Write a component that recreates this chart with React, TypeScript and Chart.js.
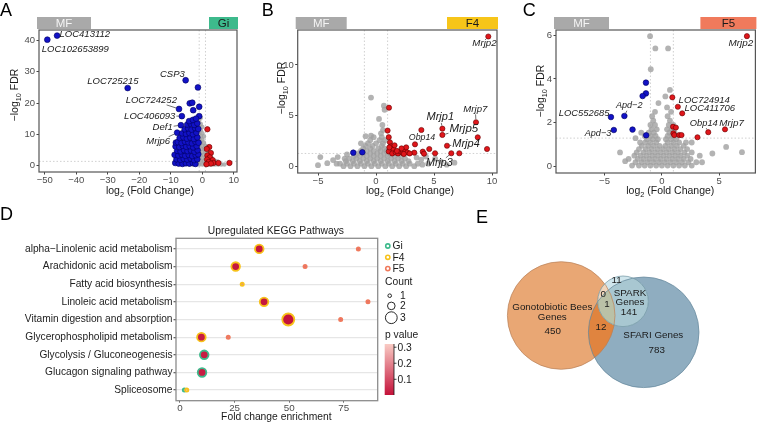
import React, { useEffect, useRef } from 'react';
import { Chart, registerables } from 'chart.js';
Chart.register(...registerables);

const FONT = '"Liberation Sans", Arial, Helvetica, sans-serif';
Chart.defaults.font.family = FONT;

type Pt = [number, number];
type Row = [number, number[]];
const rows = (r: Row[]): Pt[] => r.flatMap(([yv, xs]) => xs.map((xv) => [xv, yv] as Pt));

// ---------------- Panel A (MF vs Gi) ----------------
const aXTicks = [-50, -40, -30, -20, -10, 0, 10];
const aYTicks = [0, 10, 20, 30, 40];
const aDown: Pt[] = [
  [-49.2, 40.3], [-46.1, 41.6], [-23.7, 24.8], [-5.3, 27.3], [-1.4, 25.0], [-7.4, 18.1],
  [-4.0, 19.9], [-3.2, 20.1], [-1.0, 18.8], [-2.9, 17.7], [-6.5, 15.8], [-1.0, 15.8],
  [-6.8, 12.9], [-8.0, 10.5],
  [-8.6, 0.8], [-7.5, 0.6], [-6.3, 0.5], [-5.2, 0.7], [-4.1, 0.6], [-3.0, 0.8], [-2.2, 0.5],
  [-8.2, 2.0], [-7.0, 1.8], [-5.9, 2.1], [-4.8, 1.9], [-3.7, 2.2], [-2.6, 1.7], [-1.6, 2.0],
  [-8.8, 3.4], [-7.6, 3.2], [-6.5, 3.5], [-5.4, 3.1], [-4.3, 3.4], [-3.2, 3.0], [-2.1, 3.3], [-1.3, 3.6],
  [-8.0, 4.7], [-6.9, 4.5], [-5.8, 4.9], [-4.7, 4.6], [-3.6, 4.8], [-2.5, 4.4], [-1.5, 4.9],
  [-8.5, 6.1], [-7.3, 5.9], [-6.2, 6.3], [-5.1, 6.0], [-4.0, 6.2], [-2.9, 5.8], [-1.8, 6.2],
  [-8.4, 7.3], [-7.8, 7.5], [-6.6, 7.2], [-5.5, 7.6], [-4.4, 7.4], [-3.3, 7.1], [-2.2, 7.6], [-1.2, 7.3],
  [-7.2, 8.8], [-6.0, 9.0], [-4.9, 8.6], [-3.8, 8.9], [-2.7, 8.5], [-1.6, 9.0],
  [-6.4, 10.3], [-5.2, 10.1], [-4.1, 10.4], [-3.0, 10.0], [-1.9, 10.5],
  [-5.6, 11.6], [-4.5, 11.9], [-3.4, 11.5], [-2.3, 12.0], [-1.3, 11.7],
  [-4.8, 13.1], [-3.7, 13.4], [-2.6, 13.0], [-1.6, 13.5], [-4.2, 14.2], [-3.0, 14.6], [-2.0, 15.0],
];
const aUp: Pt[] = [
  [1.6, 11.6], [2.2, 5.9], [1.4, 5.3], [2.7, 4.0], [1.6, 3.2], [2.4, 2.6], [1.5, 1.9], [3.3, 1.7],
  [2.0, 1.1], [3.5, 0.8], [5.1, 0.8], [8.6, 0.8], [2.7, 0.6], [1.3, 0.4],
];
const aGrey: Pt[] = rows([
  [0.3, [-4, -3, -2, -1, 0, 1, 2, 3, 4, 5, 6, 7]],
  [1.3, [-3.5, -2.5, -1.5, -0.5, 0.5, 1.5, 2.5, 3.5, 4.5]],
  [2.3, [-3, -2, -1, 0, 1, 2, 3]],
  [3.3, [-2.5, -1.5, -0.5, 0.5, 1.5, 2.5]],
  [4.3, [-2, -1, 0, 1, 2]],
  [5.3, [-2.5, -1.5, -0.5, 0.5, 1.5]],
  [6.3, [-2, -1, 0, 1]],
  [7.3, [-1.5, -0.5, 0.5]],
  [8.3, [-2, -1, 0]],
  [9.3, [-1.5, -0.5, 0.5]],
  [10.3, [-1, 0]],
  [11.3, [-1.5, -0.5]],
  [12.3, [-1, 0]],
  [13.3, [-0.5]],
  [14.3, [-1]],
  [15.3, [-0.5]],
]);

// ---------------- Panel B (MF vs F4) ----------------
const bXTicks = [-5, 0, 5, 10];
const bYTicks = [0, 5, 10];
const bDown: Pt[] = [[-1.96, 1.38], [-1.18, 1.42]];
const bUp: Pt[] = [
  [9.68, 12.8], [8.62, 4.37], [5.72, 3.74], [5.72, 3.12], [8.77, 2.89], [6.12, 2.06], [9.57, 1.74],
  [6.49, 1.32], [7.18, 1.32], [3.36, 2.2], [3.91, 3.61], [4.59, 1.74], [5.09, 1.32], [3.3, 1.38],
  [4.03, 1.48], [4.14, 1.28], [1.12, 5.8], [1.0, 3.55], [1.1, 2.9], [1.2, 2.4], [1.3, 2.0],
  [1.5, 1.7], [1.1, 1.5], [1.4, 1.3], [1.7, 1.4], [1.9, 1.3], [2.1, 1.5], [2.3, 1.35], [2.5, 1.6],
  [2.6, 1.9], [2.7, 1.4], [2.2, 1.8], [1.8, 1.55], [2.9, 1.3], [1.6, 2.1], [2.4, 1.25], [1.15, 1.9],
];
const bGrey: Pt[] = [
  ...rows([
    [0.05, [-2.8, -2.2, -1.6, -1.0, -0.4, 0.2, 0.8, 1.4, 2.0, 2.6, 3.3]],
    [0.3, [-3.1, -2.5, -1.9, -1.3, -0.7, -0.1, 0.5, 1.1, 1.7, 2.3, 2.9, 3.6]],
    [0.55, [-2.6, -2.0, -1.4, -0.8, -0.2, 0.4, 1.0, 1.6, 2.2, 2.8]],
    [0.8, [-2.3, -1.7, -1.1, -0.5, 0.1, 0.7, 1.3, 1.9, 2.5]],
    [1.05, [-1.9, -1.4, -0.8, -0.2, 0.4, 1.0, 1.6, 2.2]],
    [1.3, [-1.6, -1.1, -0.5, 0.1, 0.7, 1.2]],
    [1.55, [-1.3, -0.8, -0.2, 0.4, 0.9]],
    [1.8, [-1.1, -0.5, 0.2, 0.7]],
    [2.05, [-0.9, -0.3, 0.5]],
    [2.3, [-0.7, 0.0, 0.6]],
    [2.6, [-0.5, 0.3, 0.75]],
    [2.9, [-0.2, 0.5]],
  ]),
  [-0.43, 6.8], [0.68, 6.0], [0.74, 5.6], [0.26, 4.7], [0.55, 4.1], [0.6, 3.6], [0.43, 3.28],
  [-0.43, 3.05], [-0.9, 3.0], [-1.3, 2.3],
  [-4.8, 0.95], [-3.3, 0.95], [-3.7, 0.65], [-4.2, 0.35], [-3.4, 0.3], [-2.7, 0.8], [-5.0, 0.15], [-2.5, 1.2],
  [6.76, 0.4], [4.5, 0.3], [5.6, 0.5], [3.9, 0.7], [4.3, 1.0], [3.5, 0.9], [5.1, 0.8], [6.1, 0.2], [4.0, 0.2],
];

// ---------------- Panel C (MF vs F5) ----------------
const cXTicks = [-5, 0, 5];
const cYTicks = [0, 2, 4, 6];
const cDown: Pt[] = [
  [-1.39, 3.83], [-1.39, 3.34], [-1.68, 3.22], [-4.44, 2.26], [-3.27, 2.31], [-4.19, 1.67],
  [-2.56, 1.69], [-1.37, 1.43],
];
const cUp: Pt[] = [
  [7.41, 5.95], [5.5, 1.7], [4.04, 1.57], [3.1, 1.34], [0.91, 3.16], [1.39, 2.73], [1.77, 2.43],
  [0.97, 1.82], [1.22, 1.78], [1.0, 1.52], [1.08, 1.44], [1.51, 1.44], [1.71, 1.44],
];
const cGrey: Pt[] = [
  ...rows([
    [0.05, [-2.6, -2.0, -1.5, -1.0, -0.5, 0.0, 0.5, 1.0, 1.5, 2.0, 2.6]],
    [0.2, [-2.3, -1.75, -1.25, -0.75, -0.25, 0.25, 0.75, 1.25, 1.75, 2.3, 3.0]],
    [0.35, [-2.9, -2.1, -1.6, -1.1, -0.6, -0.1, 0.4, 0.9, 1.4, 1.9, 2.5]],
    [0.5, [-2.4, -1.85, -1.35, -0.85, -0.35, 0.15, 0.65, 1.15, 1.65, 2.2, 3.3]],
    [0.65, [-3.65, -2.2, -1.6, -1.1, -0.6, -0.1, 0.4, 0.9, 1.4, 1.95, 2.6]],
    [0.8, [-2.0, -1.4, -0.9, -0.4, 0.1, 0.6, 1.1, 1.6, 2.2]],
    [0.95, [-1.75, -1.2, -0.7, -0.2, 0.3, 0.8, 1.3, 1.9]],
    [1.1, [-1.9, -1.45, -1.0, -0.5, 0.5, 1.0, 1.5, 2.1]],
    [1.25, [-1.3, -0.8, -0.35, 0.35, 0.8, 1.25]],
    [1.4, [-1.5, -1.0, -0.55, 0.5, 0.95]],
    [1.55, [-1.15, -0.7, 0.65, 1.1]],
    [1.7, [-0.9, -0.45, 0.45, 0.85]],
    [1.9, [-1.0, -0.6, 0.6, 1.0]],
    [2.1, [-0.75, 0.7]],
    [2.3, [-0.85, 0.5]],
    [2.5, [-0.6, 0.8]],
    [2.7, [0.45]],
  ]),
  [-1.03, 5.95], [-0.57, 5.39], [0.54, 5.39], [-0.97, 4.44], [5.6, 0.9], [6.98, 0.66], [4.4, 0.6],
  [-2.3, 1.3], [2.6, 1.1], [-1.8, 1.55], [3.5, 0.2], [-3.2, 0.25], [0.7, 3.5], [0.3, 3.2], [-0.3, 2.9],
];

// ---------------- Gene labels ----------------
interface Lab { text: string; px: number; py: number; tx: number; ty: number; size: number; line?: boolean }
const aLabels: Lab[] = [
  { text: 'LOC413112', px: -46.1, py: 41.6, tx: -37.3, ty: 41.9, size: 9.5 },
  { text: 'LOC102653899', px: -49.2, py: 40.3, tx: -40.3, ty: 37.2, size: 9.5 },
  { text: 'LOC725215', px: -23.7, py: 24.8, tx: -28.4, ty: 26.8, size: 9.5 },
  { text: 'CSP3', px: -5.3, py: 27.3, tx: -9.5, ty: 29.3, size: 9.5 },
  { text: 'LOC724252', px: -7.4, py: 18.1, tx: -16.2, ty: 21.0, size: 9.5, line: true },
  { text: 'LOC406093', px: -6.5, py: 15.8, tx: -16.7, ty: 15.8, size: 9.5, line: true },
  { text: 'Def1', px: -6.8, py: 12.9, tx: -12.6, ty: 12.1, size: 9.5, line: true },
  { text: 'Mrjp6', px: -8.0, py: 10.5, tx: -14.0, ty: 7.6, size: 9.5, line: true },
];
const bLabels: Lab[] = [
  { text: 'Mrjp2', px: 9.68, py: 12.8, tx: 9.35, ty: 12.16, size: 9.7 },
  { text: 'Mrjp7', px: 8.62, py: 4.37, tx: 8.56, ty: 5.64, size: 9.6, line: true },
  { text: 'Mrjp1', px: 5.72, py: 3.74, tx: 5.54, ty: 4.86, size: 11, line: true },
  { text: 'Mrjp5', px: 5.72, py: 3.12, tx: 7.57, ty: 3.71, size: 11.5, line: true },
  { text: 'Mrjp4', px: 6.12, py: 2.06, tx: 7.76, ty: 2.2, size: 11, line: true },
  { text: 'Obp14', px: 3.36, py: 2.2, tx: 3.97, ty: 2.89, size: 8.8, line: true },
  { text: 'Mrjp3', px: 6.49, py: 1.32, tx: 5.46, ty: 0.33, size: 10.7, line: true },
];
const cLabels: Lab[] = [
  { text: 'Mrjp2', px: 7.41, py: 5.95, tx: 6.88, ty: 5.62, size: 9.9 },
  { text: 'LOC724914', px: 0.91, py: 3.16, tx: 3.69, ty: 3.04, size: 9.5 },
  { text: 'LOC411706', px: 1.39, py: 2.73, tx: 4.17, ty: 2.66, size: 9.5 },
  { text: 'Obp14', px: 4.04, py: 1.57, tx: 3.65, ty: 1.98, size: 9.3, line: true },
  { text: 'Mrjp7', px: 5.5, py: 1.7, tx: 6.07, ty: 1.98, size: 9.9 },
  { text: 'LOC552685', px: -4.44, py: 2.26, tx: -6.78, ty: 2.43, size: 9.4 },
  { text: 'Apd−2', px: -3.27, py: 2.31, tx: -2.85, ty: 2.77, size: 9.1, line: true },
  { text: 'Apd−3', px: -4.19, py: 1.67, tx: -5.57, ty: 1.49, size: 9.1 },
];

// ---------------- Panel D (KEGG) ----------------
const pathways = [
  'alpha−Linolenic acid metabolism', 'Arachidonic acid metabolism', 'Fatty acid biosynthesis',
  'Linoleic acid metabolism', 'Vitamin digestion and absorption', 'Glycerophospholipid metabolism',
  'Glycolysis / Gluconeogenesis', 'Glucagon signaling pathway', 'Spliceosome',
];
const dXTicks = [0, 25, 50, 75];
const groups = ['Gi', 'F4', 'F5'];
const giFold = [null, null, null, null, null, null, 11.1, 10.1, 2.0];
const giCount = [0, 0, 0, 0, 0, 0, 2, 2, 1];
const giP = [null, null, null, null, null, null, 0.02, 0.02, 0.3];
const f4Fold = [36.3, 25.5, 28.5, 38.5, 49.6, 9.8, null, null, 3.1];
const f4Count = [2, 2, 1, 2, 3, 2, 0, 0, 1];
const f4P = [0.01, 0.01, 0.2, 0.01, 0.004, 0.02, null, null, 0.3];
const f5Fold = [81.7, 57.3, null, 86.1, 73.6, 22.1, null, null, null];
const f5Count = [1, 1, 0, 1, 1, 1, 0, 0, 0];
const f5P = [0.15, 0.15, null, 0.15, 0.15, 0.18, null, null, null];
const countLevels = [1, 2, 3];
const pTicks = [0.1, 0.2, 0.3];
const pRange = [0.002, 0.32];

// ---------------- Panel E (Venn) ----------------
const vennSetNames = ['Gonotobiotic Bees\nGenes', 'SFARI Genes', 'SPARK\nGenes'];
const vennOnly = [450, 783, 141];
const vennOverlaps = [12, 1, 0, 11]; // Bees∩SFARI, all three, Bees∩SPARK, SPARK outside SFARI

// ---------------- Style helpers ----------------
const groupColors = ['#3dba8c', '#f7c21b', '#f07a5c'];
const GREY = 'rgba(160,160,160,0.8)';

const fmt = (v: number) => (v < 0 ? '−' + Math.abs(v) : String(v));

function pColor(p: number) {
  const lo = [196, 18, 58];
  const hi = [249, 203, 196];
  let t = (p - pRange[0]) / (pRange[1] - pRange[0]);
  t = Math.max(0, Math.min(1, t));
  const c = lo.map((l, i) => Math.round(l + (hi[i] - l) * t));
  return `rgb(${c[0]},${c[1]},${c[2]})`;
}
const rFor = (n: number) => (n >= 3 ? 6.0 : n === 2 ? 4.3 : 1.6);

function drawRich(ctx: CanvasRenderingContext2D, parts: [string, boolean][], cx: number, cy: number, size: number, rot = 0) {
  ctx.save();
  ctx.translate(cx, cy);
  if (rot) ctx.rotate(rot);
  const sub = size * 0.7;
  let w = 0;
  for (const [t, s] of parts) {
    ctx.font = `${s ? sub : size}px ${FONT}`;
    w += ctx.measureText(t).width;
  }
  let x = -w / 2;
  ctx.textAlign = 'left';
  ctx.textBaseline = 'alphabetic';
  ctx.fillStyle = '#1a1a1a';
  for (const [t, s] of parts) {
    ctx.font = `${s ? sub : size}px ${FONT}`;
    ctx.fillText(t, x, size * 0.35 + (s ? size * 0.3 : 0));
    x += ctx.measureText(t).width;
  }
  ctx.restore();
}

function drawLetter(ctx: CanvasRenderingContext2D, t: string, x: number, y: number) {
  ctx.save();
  ctx.font = `18px ${FONT}`;
  ctx.fillStyle = '#000';
  ctx.textAlign = 'left';
  ctx.textBaseline = 'alphabetic';
  ctx.fillText(t, x, y);
  ctx.restore();
}

// ---------------- Volcano panels ----------------
interface VSpec {
  id: string; letter: string; letterX: number;
  xMin: number; xMax: number; yMin: number; yMax: number;
  xTicks: number[]; yTicks: number[];
  grey: Pt[]; down: Pt[]; up: Pt[]; labels: Lab[];
  yAxisW: number; xAxisH: number; padTop: number; padRight: number;
  mfW: number; rW: number; rightName: string; rightColor: string;
  xTitle: [number, number]; yTitle: [number, number];
  vlines: number[]; hline: number; dotR: number; greyR: number;
}

function volcanoConfig(s: VSpec): any {
  const pts = (a: Pt[]) => a.map(([x, y]) => ({ x, y }));
  const plugin = {
    id: 'volc' + s.id,
    beforeDatasetsDraw(chart: any) {
      const { ctx, chartArea: ca, scales } = chart;
      const x = scales.x, y = scales.y;
      ctx.save();
      ctx.strokeStyle = '#c4c4c4';
      ctx.lineWidth = 0.8;
      ctx.setLineDash([1.5, 2]);
      for (const v of s.vlines) {
        const X = x.getPixelForValue(v);
        ctx.beginPath(); ctx.moveTo(X, ca.top); ctx.lineTo(X, ca.bottom); ctx.stroke();
      }
      const Y = y.getPixelForValue(s.hline);
      ctx.beginPath(); ctx.moveTo(ca.left, Y); ctx.lineTo(ca.right, Y); ctx.stroke();
      ctx.restore();
    },
    afterDraw(chart: any) {
      const { ctx, chartArea: ca, scales } = chart;
      const x = scales.x, y = scales.y;
      ctx.save();
      ctx.strokeStyle = '#555';
      ctx.lineWidth = 1.2;
      ctx.strokeRect(ca.left, ca.top, ca.right - ca.left, ca.bottom - ca.top);
      const st = ca.top - 13, sh = 12;
      ctx.fillStyle = '#a9a9a9';
      ctx.fillRect(ca.left - 2, st, s.mfW, sh);
      ctx.fillStyle = s.rightColor;
      ctx.fillRect(ca.right + 1 - s.rW, st, s.rW, sh);
      ctx.font = `11.5px ${FONT}`;
      ctx.textAlign = 'center';
      ctx.textBaseline = 'middle';
      ctx.fillStyle = '#f4f4f4';
      ctx.fillText('MF', ca.left - 2 + s.mfW / 2, st + sh / 2 + 0.5);
      ctx.fillStyle = '#1a1a1a';
      ctx.fillText(s.rightName, ca.right + 1 - s.rW / 2, st + sh / 2 + 0.5);
      for (const l of s.labels) {
        ctx.font = `italic ${l.size}px ${FONT}`;
        const TX = x.getPixelForValue(l.tx), TY = y.getPixelForValue(l.ty);
        const PX = x.getPixelForValue(l.px), PY = y.getPixelForValue(l.py);
        const w = ctx.measureText(l.text).width;
        if (l.line) {
          const hw = w / 2 + 1, hh = l.size * 0.42 + 1;
          const dx = PX - TX, dy = PY - TY;
          const t = Math.min(Math.abs(dx) > 1e-6 ? hw / Math.abs(dx) : Infinity, Math.abs(dy) > 1e-6 ? hh / Math.abs(dy) : Infinity);
          const len = Math.hypot(dx, dy);
          if (t < 1 && len > 0) {
            const sx = TX + dx * t, sy = TY + dy * t;
            const ex = PX - (dx / len) * 3, ey = PY - (dy / len) * 3;
            ctx.beginPath(); ctx.moveTo(sx, sy); ctx.lineTo(ex, ey);
            ctx.strokeStyle = '#333'; ctx.lineWidth = 0.7; ctx.stroke();
          }
        }
        ctx.fillStyle = '#1a1a1a';
        ctx.textAlign = 'center';
        ctx.textBaseline = 'middle';
        ctx.fillText(l.text, TX, TY);
      }
      ctx.restore();
      drawRich(ctx, [['log', false], ['2', true], [' (Fold Change)', false]], s.xTitle[0], s.xTitle[1], 10.5);
      drawRich(ctx, [['−log', false], ['10', true], [' FDR', false]], s.yTitle[0], s.yTitle[1], 10.5, -Math.PI / 2);
      drawLetter(ctx, s.letter, s.letterX, 16);
    },
  };
  const tickFont = { size: 9.5, family: FONT };
  return {
    type: 'scatter',
    data: {
      datasets: [
        { data: pts(s.down), backgroundColor: '#1212c6', borderColor: '#00005e', borderWidth: 0.6, pointRadius: s.dotR, order: 1 },
        { data: pts(s.up), backgroundColor: '#e0161b', borderColor: '#640000', borderWidth: 0.6, pointRadius: s.dotR - 0.2, order: 2 },
        { data: pts(s.grey), backgroundColor: GREY, borderWidth: 0, pointRadius: s.greyR, order: 3 },
      ],
    },
    options: {
      animation: false, responsive: false, maintainAspectRatio: false, devicePixelRatio: 1,
      events: [],
      layout: { padding: { left: 0, top: s.padTop, right: s.padRight, bottom: 0 } },
      plugins: { legend: { display: false }, tooltip: { enabled: false } },
      scales: {
        x: {
          type: 'linear', min: s.xMin, max: s.xMax,
          afterBuildTicks: (sc: any) => { sc.ticks = s.xTicks.map((v) => ({ value: v })); },
          afterFit: (sc: any) => { sc.height = s.xAxisH; },
          ticks: { font: tickFont, color: '#4d4d4d', padding: 0, autoSkip: false, maxRotation: 0, callback: (v: number) => fmt(v) },
          grid: { display: true, drawOnChartArea: false, drawTicks: true, tickLength: 2.5, color: '#444', tickColor: '#444' },
          border: { display: false },
        },
        y: {
          type: 'linear', min: s.yMin, max: s.yMax,
          afterBuildTicks: (sc: any) => { sc.ticks = s.yTicks.map((v) => ({ value: v })); },
          afterFit: (sc: any) => { sc.width = s.yAxisW; },
          ticks: { font: tickFont, color: '#4d4d4d', padding: 1.5, autoSkip: false, callback: (v: number) => fmt(v) },
          grid: { display: true, drawOnChartArea: false, drawTicks: true, tickLength: 2.5, color: '#444', tickColor: '#444' },
          border: { display: false },
        },
      },
    },
    plugins: [plugin],
  };
}

const specA: VSpec = {
  id: 'A', letter: 'A', letterX: 0,
  xMin: -51.84, xMax: 11.0, yMin: -2.1, yMax: 43.4, xTicks: aXTicks, yTicks: aYTicks,
  grey: aGrey, down: aDown, up: aUp, labels: aLabels,
  yAxisW: 39, xAxisH: 28, padTop: 30, padRight: 13, mfW: 54, rW: 29, rightName: 'Gi', rightColor: '#3dba8c',
  xTitle: [150, 190], yTitle: [14, 95], vlines: [-1, 1], hline: 1.3, dotR: 2.9, greyR: 2.3,
};
const specB: VSpec = {
  id: 'B', letter: 'B', letterX: 11.7,
  xMin: -6.75, xMax: 10.43, yMin: -0.62, yMax: 13.44, xTicks: bXTicks, yTicks: bYTicks,
  grey: bGrey, down: bDown, up: bUp, labels: bLabels,
  yAxisW: 47.7, xAxisH: 27, padTop: 30, padRight: 8, mfW: 51, rW: 51, rightName: 'F4', rightColor: '#f7c519',
  xTitle: [160, 190], yTitle: [31, 88], vlines: [-1, 1], hline: 1.3, dotR: 2.8, greyR: 2.9,
};
const specC: VSpec = {
  id: 'C', letter: 'C', letterX: 17.7,
  xMin: -9.23, xMax: 8.15, yMin: -0.29, yMax: 6.23, xTicks: cXTicks, yTicks: cYTicks,
  grey: cGrey, down: cDown, up: cUp, labels: cLabels,
  yAxisW: 51, xAxisH: 27, padTop: 30, padRight: 0.7, mfW: 55, rW: 56, rightName: 'F5', rightColor: '#f07a5c',
  xTitle: [165.3, 190], yTitle: [35, 91], vlines: [-1, 1], hline: 1.3, dotR: 2.8, greyR: 2.9,
};

// ---------------- KEGG bubble panel ----------------
function keggConfig(): any {
  const build = (fold: (number | null)[], count: number[], p: (number | null)[]) =>
    pathways
      .map((_, i) => (fold[i] == null ? null : { x: fold[i] as number, y: i, r: rFor(count[i]), p: p[i] as number }))
      .filter(Boolean);
  const ds = (gi: number, fold: any, count: any, p: any, order: number) => ({
    label: groups[gi], data: build(fold, count, p),
    backgroundColor: (c: any) => pColor(c.raw ? c.raw.p : 0.1),
    borderColor: groupColors[gi], borderWidth: 1.8, order,
  });
  const plugin = {
    id: 'kegg',
    afterDraw(chart: any) {
      const { ctx, chartArea: ca } = chart;
      ctx.save();
      ctx.strokeStyle = '#8c8c8c';
      ctx.lineWidth = 1.3;
      ctx.strokeRect(ca.left, ca.top, ca.right - ca.left, ca.bottom - ca.top);
      ctx.fillStyle = '#1a1a1a';
      ctx.textAlign = 'center';
      ctx.textBaseline = 'middle';
      ctx.font = `10.3px ${FONT}`;
      ctx.fillText('Upregulated KEGG Pathways', (ca.left + ca.right) / 2 - 1, 30.7);
      ctx.fillText('Fold change enrichment', (ca.left + ca.right) / 2 - 0.5, 217.5);
      ctx.textAlign = 'left';
      groups.forEach((g, i) => {
        const cy = 46 + i * 11.3;
        ctx.beginPath(); ctx.arc(387.8, cy, 2.1, 0, Math.PI * 2);
        ctx.fillStyle = '#fff'; ctx.fill();
        ctx.strokeStyle = groupColors[i]; ctx.lineWidth = 1.6; ctx.stroke();
        ctx.fillStyle = '#1a1a1a';
        ctx.fillText(g, 392.5, cy + 0.5);
      });
      ctx.fillText('Count', 385, 82);
      const cys = [95.7, 105.9, 117.7];
      const cxs = [389.7, 391.3, 391.3];
      countLevels.forEach((n, i) => {
        ctx.beginPath(); ctx.arc(cxs[i], cys[i], [1.8, 3.8, 5.9][i], 0, Math.PI * 2);
        ctx.strokeStyle = '#111'; ctx.lineWidth = 0.9; ctx.stroke();
        ctx.fillStyle = '#1a1a1a';
        ctx.fillText(String(n), 400, cys[i] + 0.5);
      });
      ctx.fillText('p value', 385, 135);
      const bx = 384.7, bw = 9.3, top = 144, bot = 195;
      const gr = ctx.createLinearGradient(0, bot, 0, top);
      gr.addColorStop(0, pColor(pRange[0]));
      gr.addColorStop(1, pColor(pRange[1]));
      ctx.fillStyle = gr;
      ctx.fillRect(bx, top, bw, bot - top);
      const py = (p: number) => bot - ((p - pRange[0]) / (pRange[1] - pRange[0])) * (bot - top);
      ctx.strokeStyle = '#111';
      ctx.lineWidth = 0.8;
      ctx.beginPath(); ctx.moveTo(bx + bw, top); ctx.lineTo(bx + bw, bot); ctx.stroke();
      pTicks.forEach((p) => {
        const Y = py(p);
        ctx.beginPath(); ctx.moveTo(bx + bw, Y); ctx.lineTo(bx + bw + 2.5, Y); ctx.stroke();
        ctx.fillStyle = '#1a1a1a';
        ctx.fillText(p.toFixed(1), bx + bw + 3.5, Y + 0.5);
      });
      ctx.restore();
      drawLetter(ctx, 'D', 0, 20);
    },
  };
  return {
    type: 'bubble',
    data: {
      datasets: [
        ds(1, f4Fold, f4Count, f4P, 1),
        ds(0, giFold, giCount, giP, 2),
        ds(2, f5Fold, f5Count, f5P, 3),
      ],
    },
    options: {
      animation: false, responsive: false, maintainAspectRatio: false, devicePixelRatio: 1,
      events: [],
      layout: { padding: { left: 0, top: 38.3, right: 92.3, bottom: 0 } },
      plugins: { legend: { display: false }, tooltip: { enabled: false } },
      scales: {
        x: {
          type: 'linear', min: -1.83, max: 90.56,
          afterBuildTicks: (sc: any) => { sc.ticks = dXTicks.map((v) => ({ value: v })); },
          afterFit: (sc: any) => { sc.height = 22.3; },
          ticks: { font: { size: 9.8, family: FONT }, color: '#4d4d4d', padding: 0, autoSkip: false, maxRotation: 0 },
          grid: { display: true, drawOnChartArea: false, drawTicks: true, tickLength: 2, color: '#666', tickColor: '#666' },
          border: { display: false },
        },
        y: {
          type: 'linear', min: -0.6, max: 8.6, reverse: true,
          afterBuildTicks: (sc: any) => { sc.ticks = pathways.map((_, i) => ({ value: i })); },
          afterFit: (sc: any) => { sc.width = 176; },
          ticks: { font: { size: 10.2, family: FONT }, color: '#222', padding: 1, autoSkip: false, callback: (v: number) => pathways[v] },
          grid: { display: true, drawOnChartArea: true, drawTicks: true, tickLength: 2.5, color: '#e6e6e6', lineWidth: 1.3, tickColor: '#666' },
          border: { display: false },
        },
      },
    },
    plugins: [plugin],
  };
}

// ---------------- Venn panel ----------------
const vennCircles = [
  { x: 91.2, y: 115.5, r: 53.8 },
  { x: 173.7, y: 132.3, r: 55.3 },
  { x: 153.0, y: 101.3, r: 25.3 },
];
function vennConfig(): any {
  const plugin = {
    id: 'venn',
    afterDatasetsDraw(chart: any) {
      const { ctx, scales } = chart;
      const x = scales.x, y = scales.y;
      const C = vennCircles.map((c) => ({
        x: x.getPixelForValue(c.x), y: y.getPixelForValue(c.y),
        r: x.getPixelForValue(c.x + c.r) - x.getPixelForValue(c.x),
      }));
      const [O, B, S] = C;
      const path = (c: any) => { ctx.beginPath(); ctx.arc(c.x, c.y, c.r, 0, Math.PI * 2); };
      const fill = (c: any, col: string) => { path(c); ctx.fillStyle = col; ctx.fill(); };
      ctx.save();
      fill(O, '#e9a774');
      fill(B, '#8fadc0');
      ctx.save(); path(O); ctx.clip(); fill(B, '#e0843f'); ctx.restore();
      fill(S, '#cfe5ec');
      ctx.save(); path(S); ctx.clip();
      fill(B, '#a8c7d1');
      fill(O, '#f0d5bb');
      ctx.save(); path(O); ctx.clip(); fill(B, '#bac1a7'); ctx.restore();
      ctx.restore();
      ctx.lineWidth = 0.7;
      ctx.strokeStyle = '#b88058'; path(O); ctx.stroke();
      ctx.strokeStyle = '#64879b'; path(B); ctx.stroke();
      ctx.strokeStyle = '#6f93a0'; path(S); ctx.stroke();
      ctx.fillStyle = '#1a1a1a';
      ctx.textAlign = 'center';
      ctx.textBaseline = 'middle';
      const t = (s: string, vx: number, vy: number, size = 9.8) => {
        ctx.font = `${size}px ${FONT}`;
        ctx.fillText(s, x.getPixelForValue(vx), y.getPixelForValue(vy));
      };
      const bees = vennSetNames[0].split('\n');
      t(bees[0], 82.3, 107.3); t(bees[1], 82.3, 117);
      t(String(vennOnly[0]), 82.7, 131.5);
      t(vennSetNames[1], 183.3, 135);
      t(String(vennOnly[1]), 186.7, 150);
      const sp = vennSetNames[2].split('\n');
      t(sp[0], 160, 93.5); t(sp[1], 160, 102.3);
      t(String(vennOnly[2]), 159, 112.7);
      t(String(vennOverlaps[0]), 131, 127.3);
      t(String(vennOverlaps[1]), 137, 104.3);
      t(String(vennOverlaps[2]), 133.3, 94);
      t(String(vennOverlaps[3]), 146.7, 80.7);
      ctx.restore();
      drawLetter(ctx, 'E', 6, 23);
    },
  };
  return {
    type: 'scatter',
    data: { datasets: [{ data: [], pointRadius: 0 }] },
    options: {
      animation: false, responsive: false, maintainAspectRatio: false, devicePixelRatio: 1,
      events: [],
      layout: { padding: 0 },
      plugins: { legend: { display: false }, tooltip: { enabled: false } },
      scales: {
        x: { type: 'linear', min: 0, max: 290, display: false },
        y: { type: 'linear', min: 0, max: 223, reverse: true, display: false },
      },
    },
    plugins: [plugin],
  };
}

function ChartCanvas(props: { left: number; top: number; width: number; height: number; make: () => any }) {
  const ref = useRef<HTMLCanvasElement>(null);
  useEffect(() => {
    const chart = new Chart(ref.current as HTMLCanvasElement, props.make());
    return () => chart.destroy();
  }, []);
  return (
    <canvas
      ref={ref}
      width={props.width}
      height={props.height}
      style={{ position: 'absolute', left: props.left, top: props.top, width: props.width, height: props.height }}
    />
  );
}

export default function App() {
  return (
    <div style={{ position: 'absolute', left: 0, top: 0, width: 760, height: 423, background: '#fff', overflow: 'hidden' }}>
      <ChartCanvas left={0} top={0} width={250} height={200} make={() => volcanoConfig(specA)} />
      <ChartCanvas left={250} top={0} width={255} height={200} make={() => volcanoConfig(specB)} />
      <ChartCanvas left={505} top={0} width={255} height={200} make={() => volcanoConfig(specC)} />
      <ChartCanvas left={0} top={200} width={470} height={223} make={keggConfig} />
      <ChartCanvas left={470} top={200} width={290} height={223} make={vennConfig} />
    </div>
  );
}
